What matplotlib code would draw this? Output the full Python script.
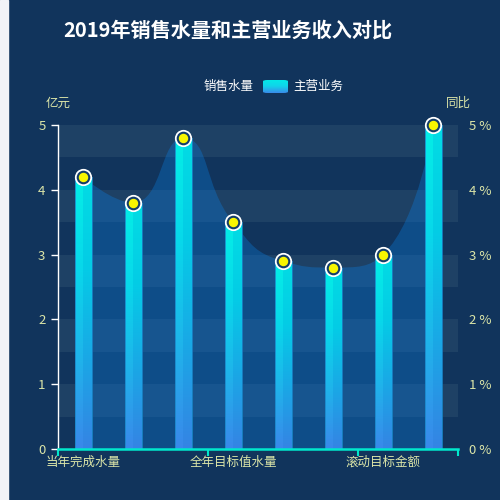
import matplotlib.pyplot as plt
import numpy as np
from matplotlib.path import Path
from matplotlib.patches import PathPatch, Rectangle, FancyBboxPatch
from matplotlib.colors import LinearSegmentedColormap

plt.rcParams['font.family'] = ['Noto Sans CJK SC', 'DejaVu Sans']

# data
categories = ['当年完成水量', '去年完成水量', '计划完成水量', '全年目标值水量',
              '当年完成金额', '去年完成金额', '滚动目标金额', '全年目标金额']
income = [4.2, 3.8, 4.8, 3.5, 2.9, 2.8, 3.0, 5.0]      # 主营业务 (亿元)
volume = [4.2, 3.8, 4.8, 3.5, 2.9, 2.8, 3.0, 5.0]      # 销售水量 (同比 %)
left_ticks = [0, 1, 2, 3, 4, 5]
label_every = 3

bg = '#11345c'
stripe = '#1e4165'
txt = '#dbe5a8'

fig = plt.figure(figsize=(5, 5), dpi=100, facecolor=bg)
fig.patches.append(Rectangle((0, 0), 8 / 500, 1, transform=fig.transFigure,
                             color='#f2f3f7', zorder=0))

ax = fig.add_axes([58 / 500, 51 / 500, 400 / 500, 324 / 500])
ax.set_facecolor('none')
n = len(categories)
ax.set_xlim(-0.5, n - 0.5)
ax.set_ylim(0, 5)

# split area stripes
for k in range(5):
    ax.axhspan(k + 0.5, k + 1, color=stripe, lw=0, zorder=0)


# smooth area (echarts-like bezier, clamped control points)
def smooth_path(xs, ys, sx=50.0, sy=64.8, s=0.5):
    P = np.column_stack([np.asarray(xs, float) * sx, np.asarray(ys, float) * sy])
    cin = P.copy()
    cout = P.copy()
    for i in range(1, len(P) - 1):
        prev, cur, nxt = P[i - 1], P[i], P[i + 1]
        v = nxt - prev
        l0 = np.hypot(*(cur - prev))
        l1 = np.hypot(*(nxt - cur))
        co = cur + v * s * l1 / (l0 + l1)
        co = np.clip(co, np.minimum(nxt, cur), np.maximum(nxt, cur))
        ci = cur - (co - cur) * l0 / l1
        ci = np.clip(ci, np.minimum(prev, cur), np.maximum(prev, cur))
        co = cur + (cur - ci) * l1 / l0
        cin[i] = ci
        cout[i] = co
    verts = [P[0]]
    codes = [Path.MOVETO]
    for i in range(len(P) - 1):
        verts += [cout[i], cin[i + 1], P[i + 1]]
        codes += [Path.CURVE4] * 3
    verts = np.array(verts) / np.array([sx, sy])
    return verts, codes


xs = np.arange(n)
verts, codes = smooth_path(xs, volume)
area_v = np.vstack([[xs[0], 0], verts, [xs[-1], 0], [xs[0], 0]])
area_c = [Path.MOVETO] + [Path.LINETO] + codes[1:] + [Path.LINETO, Path.CLOSEPOLY]
ax.add_patch(PathPatch(Path(area_v, area_c), facecolor='#0a82e8', alpha=0.32,
                       lw=0, zorder=1))

# gradient bars
cm_l = LinearSegmentedColormap.from_list('bl', ['#3a88ea', '#1fb4ea', '#08d8ea', '#04eee6'])
cm_r = LinearSegmentedColormap.from_list('br', ['#3584e4', '#1aa8e6', '#04cce6', '#02dce4'])
grad = np.linspace(0, 1, 256).reshape(-1, 1)
bw = 0.34
for i, v in enumerate(income):
    ax.imshow(grad, cmap=cm_l, origin='lower', aspect='auto',
              extent=[i - bw / 2, i, 0, v], zorder=2)
    ax.imshow(grad, cmap=cm_r, origin='lower', aspect='auto',
              extent=[i, i + bw / 2, 0, v], zorder=2)
    ax.add_patch(Rectangle((i - bw / 2, 0), bw, v, fill=False, ec='#1a86c8',
                           lw=0.6, zorder=3))

# markers
ax.plot(xs, volume, 'o', ms=12.4, mfc='white', mec='none', zorder=8, clip_on=False)
ax.plot(xs, volume, 'o', ms=9.8, mfc='#123c6a', mec='none', zorder=9, clip_on=False)
ax.plot(xs, volume, 'o', ms=6.8, mfc='#f8f500', mec='none', zorder=10, clip_on=False)

# axes styling
for s in ['top', 'right']:
    ax.spines[s].set_visible(False)
ax.spines['left'].set_color('white')
ax.spines['left'].set_linewidth(1)
ax.spines['bottom'].set_color('#00e8cc')
ax.spines['bottom'].set_linewidth(1.8)
ax.spines['bottom'].set_zorder(7)
ax.set_yticks(left_ticks)
ax.set_yticklabels([str(t) for t in left_ticks])
ax.tick_params(axis='y', colors='white', labelcolor=txt, length=5, width=1,
               labelsize=9.5, pad=4)
ax.set_xticks(np.arange(-0.5, n, label_every).tolist() + [n - 0.5])
ax.set_xticklabels([])
ax.tick_params(axis='x', which='major', colors='#00e8cc', length=5, width=1.5)
ax.set_xticks(xs[::label_every], minor=True)
ax.set_xticklabels(categories[::label_every], minor=True)
ax.tick_params(axis='x', which='minor', length=0, labelcolor=txt,
               labelsize=9, pad=5)

ax2 = ax.twinx()
ax2.set_ylim(0, 5)
for s in ax2.spines.values():
    s.set_visible(False)
ax2.set_yticks(left_ticks)
ax2.set_yticklabels([f'{t} %' for t in left_ticks])
ax2.tick_params(axis='y', length=0, labelcolor=txt, labelsize=9.5, pad=8)
ax2.set_zorder(-1)
ax.set_zorder(1)

# axis names
fig.text(58 / 500, 1 - 103 / 500, '亿元', color=txt, fontsize=9,
         ha='center', va='center')
fig.text(458 / 500, 1 - 103 / 500, '同比', color=txt, fontsize=9,
         ha='center', va='center')

# title
fig.text(63 / 500, 1 - 30 / 500, '2019年销售水量和主营业务收入对比',
         color='white', fontsize=14.5, fontweight='bold', ha='left', va='center')

# legend
fig.text(229 / 500, 1 - 86 / 500, '销售水量', color='white', fontsize=9,
         ha='center', va='center')
fig.text(293 / 500, 1 - 86 / 500, '主营业务', color='white', fontsize=9,
         ha='left', va='center')
lax = fig.add_axes([263 / 500, 1 - 93 / 500, 25 / 500, 13 / 500])
lax.axis('off')
lim = lax.imshow(grad, cmap=LinearSegmentedColormap.from_list(
    'lg', ['#3a8aea', '#10d4ea', '#02ece6']), origin='lower', aspect='auto',
    extent=[0, 1, 0, 1])
clip = FancyBboxPatch((0, 0), 1, 1, boxstyle='round,pad=0,rounding_size=0.18',
                      mutation_aspect=0.52, transform=lax.transAxes,
                      fc='none', ec='none')
lax.add_patch(clip)
lim.set_clip_path(clip)

fig.savefig('out.png', dpi=100, facecolor=bg)
